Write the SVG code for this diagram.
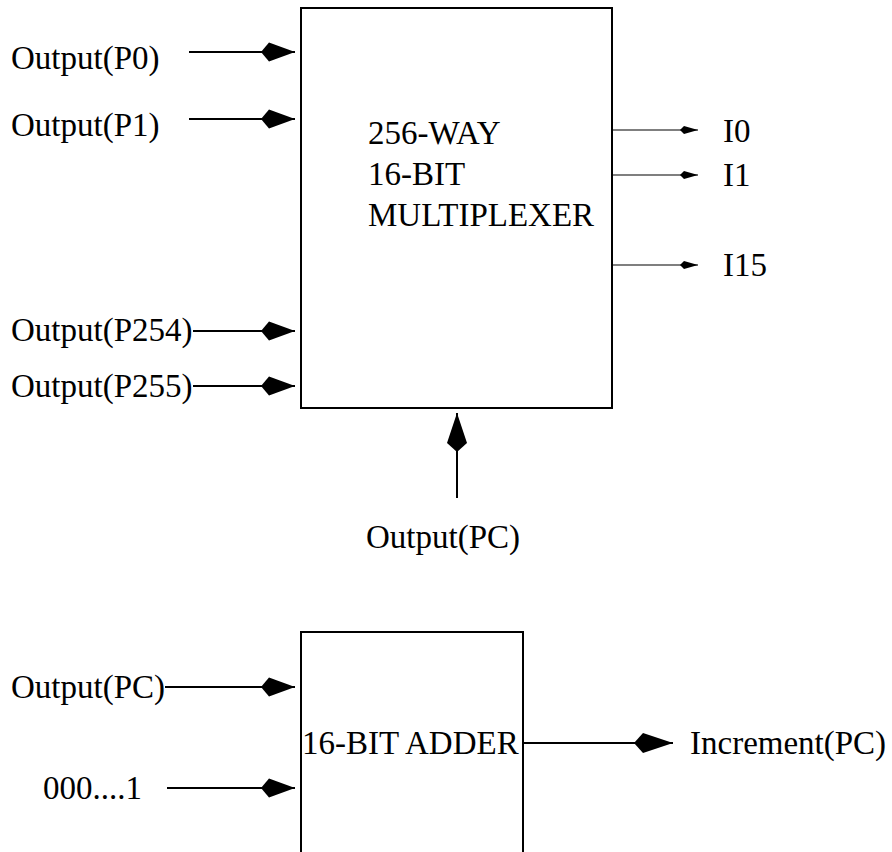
<svg xmlns="http://www.w3.org/2000/svg" width="892" height="852" viewBox="0 0 892 852">
  <style>
    text { font-family: "Liberation Serif", "Times New Roman", serif; font-size: 33px; fill: #000; }
    .box { fill: #fff; stroke: #000; stroke-width: 2; }
    .wire { fill: none; stroke: #000; stroke-width: 2; }
    .thin { fill: none; stroke: #000; stroke-width: 1.2; }
  </style>
  <defs>
    <!-- filled kite-shaped arrowheads -->
    <marker id="head" viewBox="0 -11 35 22" refX="34" refY="0" markerWidth="35" markerHeight="22" markerUnits="userSpaceOnUse" orient="auto">
      <path d="M0,0 L8,-9.5 L34,0 L8,9.5 Z" fill="#000"/>
    </marker>
    <marker id="headLong" viewBox="0 -11 40 22" refX="39" refY="0" markerWidth="40" markerHeight="22" markerUnits="userSpaceOnUse" orient="auto">
      <path d="M0,0 L9,-10 L39,0 L9,10 Z" fill="#000"/>
    </marker>
    <marker id="headSmall" viewBox="0 -5 19 10" refX="18" refY="0" markerWidth="19" markerHeight="10" markerUnits="userSpaceOnUse" orient="auto">
      <path d="M0,0 L4,-4 L18,0 L4,4 Z" fill="#000"/>
    </marker>
  </defs>

  <!-- multiplexer block -->
  <g id="mux">
    <rect class="box" x="301" y="8" width="311" height="400"/>
    <text x="368" y="144">256-WAY</text>
    <text x="368" y="185">16-BIT</text>
    <text x="368" y="226">MULTIPLEXER</text>
  </g>

  <!-- adder block -->
  <g id="adder">
    <rect class="box" x="301" y="632" width="222" height="240"/>
    <text x="302" y="754">16-BIT ADDER</text>
  </g>

  <!-- port labels -->
  <g id="in-p0"><text x="11" y="69">Output(P0)</text></g>
  <g id="in-p1"><text x="11" y="136">Output(P1)</text></g>
  <g id="in-p254"><text x="11" y="341">Output(P254)</text></g>
  <g id="in-p255"><text x="11" y="397">Output(P255)</text></g>
  <g id="out-i0"><text x="723" y="142">I0</text></g>
  <g id="out-i1"><text x="723" y="186">I1</text></g>
  <g id="out-i15"><text x="723" y="276">I15</text></g>
  <g id="sel-pc"><text x="366" y="548">Output(PC)</text></g>
  <g id="add-pc"><text x="11" y="698">Output(PC)</text></g>
  <g id="add-one"><text x="43" y="799">000....1</text></g>
  <g id="add-out"><text x="690" y="754">Increment(PC)</text></g>

  <!-- connectors -->
  <g id="connectors">
    <line class="wire" x1="189" y1="52" x2="295" y2="52" marker-end="url(#head)"/>
    <line class="wire" x1="189" y1="119" x2="295" y2="119" marker-end="url(#head)"/>
    <line class="wire" x1="193" y1="331" x2="295" y2="331" marker-end="url(#head)"/>
    <line class="wire" x1="193" y1="386" x2="295" y2="386" marker-end="url(#head)"/>
    <line class="thin" x1="612" y1="130" x2="698" y2="130" marker-end="url(#headSmall)"/>
    <line class="thin" x1="612" y1="175" x2="698" y2="175" marker-end="url(#headSmall)"/>
    <line class="thin" x1="612" y1="265" x2="698" y2="265" marker-end="url(#headSmall)"/>
    <line class="wire" x1="457" y1="498" x2="457" y2="413" marker-end="url(#headLong)"/>
    <line class="wire" x1="165" y1="687" x2="295" y2="687" marker-end="url(#head)"/>
    <line class="wire" x1="167" y1="788" x2="295" y2="788" marker-end="url(#head)"/>
    <line class="wire" x1="523" y1="743" x2="673" y2="743" marker-end="url(#headLong)"/>
  </g>
</svg>
